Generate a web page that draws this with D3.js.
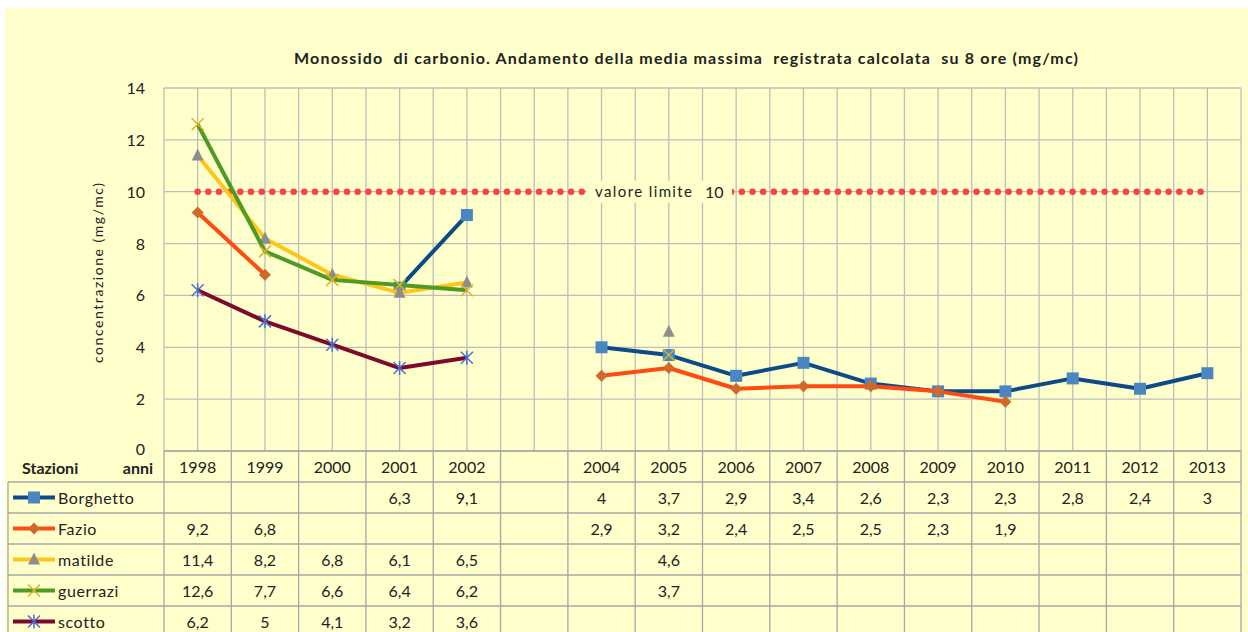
<!DOCTYPE html>
<html>
<head>
<meta charset="utf-8">
<script src="https://cdn.jsdelivr.net/npm/d3@7"></script>
<style>
  body { margin: 0; background: #fff; }
  text { font-family: Lato, "Open Sans", sans-serif; fill: #222; }
</style>
</head>
<body>
<div class="chart"></div>
<script>
var width = 1248, height = 632;

// data (null = no value)
var years = ["1998","1999","2000","2001","2002","2003","2004","2005","2006","2007","2008","2009","2010","2011","2012","2013"];
var borghetto = [null,null,null,6.3,9.1,null,4,3.7,2.9,3.4,2.6,2.3,2.3,2.8,2.4,3];
var fazio     = [9.2,6.8,null,null,null,null,2.9,3.2,2.4,2.5,2.5,2.3,1.9,null,null,null];
var matilde   = [11.4,8.2,6.8,6.1,6.5,null,null,4.6,null,null,null,null,null,null,null,null];
var guerrazi  = [12.6,7.7,6.6,6.4,6.2,null,null,3.7,null,null,null,null,null,null,null,null];
var scotto    = [6.2,5,4.1,3.2,3.6,null,null,null,null,null,null,null,null,null,null,null];
var yTicks = [0,2,4,6,8,10,12,14];
var limitValue = 10;

var series = [
  {name: "Borghetto", values: borghetto, line: "#0d4a86", marker: "square",   mcol: "#4a86c2"},
  {name: "Fazio",     values: fazio,     line: "#ff4a12", marker: "diamond",  mcol: "#cf6a2a"},
  {name: "matilde",   values: matilde,   line: "#ffc61a", marker: "triangle", mcol: "#8e8e8e"},
  {name: "guerrazi",  values: guerrazi,  line: "#4f9a22", marker: "x",        mcol: "#e2b12a"},
  {name: "scotto",    values: scotto,    line: "#7c0a2c", marker: "star",     mcol: "#4a6fd0"}
];

var svg = d3.select(".chart").append("svg")
    .attr("width", width)
    .attr("height", height);

svg.append("rect")
    .attr("x", 5).attr("y", 8)
    .attr("width", width - 5).attr("height", height - 8)
    .attr("fill", "#ffffcc");

var x = d3.scaleBand().domain(years).range([164, 1241]);
var bw = x.bandwidth();
var cx = function(yr) { return x(yr) + bw / 2; };
var y = d3.scaleLinear().domain([0, 14]).range([451, 88]);

// grid
var grid = svg.append("g").attr("stroke", "#bdbdbd").attr("stroke-width", 1.3);
grid.selectAll(".h").data(yTicks).enter().append("line")
    .attr("x1", 164).attr("x2", 1241)
    .attr("y1", function(d) { return y(d); }).attr("y2", function(d) { return y(d); });
var vx = [];
years.forEach(function(yr) { vx.push(x(yr)); vx.push(cx(yr)); });
vx.push(1241);
grid.selectAll(".v").data(vx).enter().append("line")
    .attr("x1", function(d) { return d; }).attr("x2", function(d) { return d; })
    .attr("y1", y(14)).attr("y2", y(0));

// y axis labels
svg.append("g").selectAll("text").data(yTicks).enter().append("text")
    .attr("x", 145).attr("y", function(d) { return y(d) + (d === 0 ? 4 : 6); })
    .attr("text-anchor", "end").style("font-size", "16px")
    .text(function(d) { return d; });

svg.append("text")
    .attr("transform", "translate(103,273) rotate(-90)")
    .attr("text-anchor", "middle").style("font-size", "14px")
    .attr("textLength", 180).attr("lengthAdjust", "spacing")
    .text("concentrazione (mg/mc)");

svg.append("text")
    .attr("x", 294).attr("y", 64)
    .style("font-size", "16px").style("font-weight", "bold")
    .style("white-space", "pre")
    .attr("textLength", 784).attr("lengthAdjust", "spacing")
    .text("Monossido  di carbonio. Andamento della media massima  registrata calcolata  su 8 ore (mg/mc)");

// limit line
svg.append("line")
    .attr("x1", cx(years[0])).attr("x2", cx(years[years.length - 1]))
    .attr("y1", y(limitValue)).attr("y2", y(limitValue))
    .attr("stroke", "#ff4040").attr("stroke-width", 6.5)
    .attr("stroke-linecap", "round").attr("stroke-dasharray", "0 10.67");
svg.append("rect")
    .attr("x", 587).attr("y", y(limitValue) - 11)
    .attr("width", 145).attr("height", 22)
    .attr("fill", "#ffffcc");
svg.append("text")
    .attr("x", 595).attr("y", y(limitValue) + 5)
    .style("font-size", "15px")
    .attr("textLength", 97).attr("lengthAdjust", "spacing")
    .text("valore limite");
svg.append("text")
    .attr("x", 705).attr("y", y(limitValue) + 6)
    .style("font-size", "16px")
    .text(limitValue);

function drawMarker(g, type, col, px, py) {
  var s = 6;
  if (type === "square") {
    g.append("rect").attr("x", px - s).attr("y", py - s).attr("width", 2 * s).attr("height", 2 * s).attr("fill", col);
  } else if (type === "diamond") {
    g.append("path").attr("d", "M" + px + "," + (py - s) + "L" + (px + s) + "," + py + "L" + px + "," + (py + s) + "L" + (px - s) + "," + py + "Z").attr("fill", col);
  } else if (type === "triangle") {
    g.append("path").attr("d", "M" + px + "," + (py - s - 1) + "L" + (px + s) + "," + (py + s - 1) + "L" + (px - s) + "," + (py + s - 1) + "Z").attr("fill", col);
  } else if (type === "x") {
    g.append("path").attr("d", "M" + (px - s) + "," + (py - s) + "L" + (px + s) + "," + (py + s) + "M" + (px + s) + "," + (py - s) + "L" + (px - s) + "," + (py + s))
      .attr("stroke", col).attr("stroke-width", 1.5);
  } else if (type === "star") {
    g.append("path").attr("d", "M" + (px - s) + "," + (py - s) + "L" + (px + s) + "," + (py + s) + "M" + (px + s) + "," + (py - s) + "L" + (px - s) + "," + (py + s) + "M" + px + "," + (py - s - 1) + "L" + px + "," + (py + s + 1))
      .attr("stroke", col).attr("stroke-width", 1.5);
  }
}

var line = d3.line()
    .defined(function(d) { return d.v != null; })
    .x(function(d) { return cx(d.yr); })
    .y(function(d) { return y(d.v); });

series.forEach(function(s) {
  var pts = s.values.map(function(v, i) { return {yr: years[i], v: v}; });
  var g = svg.append("g");
  g.append("path").datum(pts)
      .attr("d", line)
      .attr("fill", "none").attr("stroke", s.line).attr("stroke-width", 4)
      .attr("stroke-linejoin", "round");
  pts.forEach(function(p) {
    if (p.v != null) drawMarker(g, s.marker, s.mcol, cx(p.yr), y(p.v));
  });
});

// data table
var rowTop = 451, rowH = 31, fs = "16px";
var tbl = svg.append("g");
var tb = tbl.append("g").attr("stroke", "#a6a6a6").attr("stroke-width", 1.3);
tb.append("line").attr("x1", 164).attr("x2", 1241).attr("y1", rowTop).attr("y2", rowTop);
for (var r = 1; r <= series.length + 1; r++) {
  tb.append("line").attr("x1", 8).attr("x2", 1241)
    .attr("y1", rowTop + r * rowH).attr("y2", rowTop + r * rowH);
}
tb.append("line").attr("x1", 8).attr("x2", 8).attr("y1", rowTop + rowH).attr("y2", height);
years.forEach(function(yr) {
  tb.append("line").attr("x1", x(yr)).attr("x2", x(yr)).attr("y1", rowTop).attr("y2", height);
});
tb.append("line").attr("x1", 1241).attr("x2", 1241).attr("y1", rowTop).attr("y2", height);

tbl.selectAll(".yr").data(years.filter(function(d) { return d !== "2003"; })).enter().append("text")
    .attr("x", function(d) { return cx(d); }).attr("y", rowTop + 22)
    .attr("text-anchor", "middle").style("font-size", fs)
    .text(function(d) { return d; });

tbl.append("text").attr("x", 22).attr("y", rowTop + 23)
    .style("font-size", fs).style("font-weight", "bold").text("Stazioni");
tbl.append("text").attr("x", 153).attr("y", rowTop + 23).attr("text-anchor", "end")
    .style("font-size", fs).style("font-weight", "bold").text("anni");

series.forEach(function(s, i) {
  var ry = rowTop + (i + 1) * rowH;
  var mid = ry + rowH / 2;
  var g = tbl.append("g");
  g.append("line").attr("x1", 13).attr("x2", 55).attr("y1", mid).attr("y2", mid)
      .attr("stroke", s.line).attr("stroke-width", 4);
  drawMarker(g, s.marker, s.mcol, 34, mid);
  g.append("text").attr("x", 58).attr("y", mid + 6)
      .style("font-size", fs).style("letter-spacing", "0.6px").text(s.name);
  s.values.forEach(function(v, j) {
    if (v == null) return;
    g.append("text").attr("x", cx(years[j])).attr("y", mid + 6)
        .attr("text-anchor", "middle").style("font-size", fs)
        .text(String(v).replace(".", ","));
  });
});
</script>
</body>
</html>
